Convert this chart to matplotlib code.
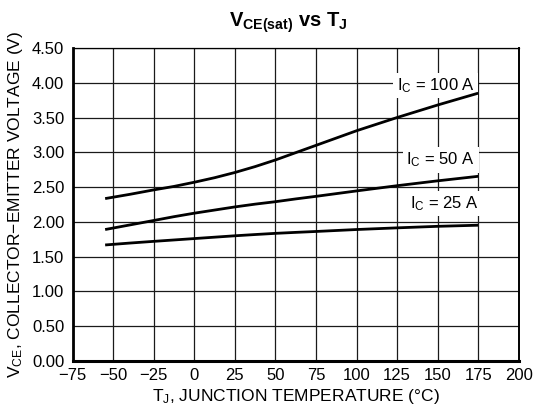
import matplotlib
matplotlib.use("Agg")
import matplotlib.pyplot as plt

plt.rcParams['font.family'] = ['Liberation Sans', 'DejaVu Sans']
plt.rcParams['mathtext.fontset'] = 'custom'
plt.rcParams['mathtext.rm'] = 'Liberation Sans'
plt.rcParams['mathtext.it'] = 'Liberation Sans'
plt.rcParams['mathtext.bf'] = 'Liberation Sans:bold'

#
# Data
#
temps = [-55, -40, -25, -12.5, 0, 12.5, 25, 37.5, 50, 62.5, 75, 100, 125, 150, 175]
vce_100a = [2.335, 2.395, 2.46, 2.51, 2.57, 2.635, 2.71, 2.795, 2.89, 2.995, 3.10, 3.31, 3.50, 3.68, 3.85]
vce_50a = [1.89, 1.955, 2.02, 2.075, 2.125, 2.17, 2.215, 2.255, 2.29, 2.33, 2.367, 2.445, 2.52, 2.59, 2.655]
vce_25a = [1.668, 1.695, 1.72, 1.74, 1.76, 1.78, 1.80, 1.818, 1.835, 1.849, 1.862, 1.89, 1.914, 1.936, 1.952]

x_ticks = list(range(-75, 201, 25))
y_ticks = [0.0, 0.5, 1.0, 1.5, 2.0, 2.5, 3.0, 3.5, 4.0, 4.5]

labels = ["$\\mathregular{I_C}$ = 100 A", "$\\mathregular{I_C}$ = 50 A", "$\\mathregular{I_C}$ = 25 A"]
label_pos = [(148.8, 3.96), (152, 2.89), (154, 2.266)]

#
# Plot
#
fig = plt.figure(figsize=(5.35, 4.18), dpi=100)
ax = fig.add_axes([0.1359, 0.1364, 0.8336, 0.7488])

for series in (vce_100a, vce_50a, vce_25a):
    ax.plot(temps, series, color='black', linewidth=2.0, zorder=4,
            solid_capstyle='butt', solid_joinstyle='round')

for text, (tx, ty) in zip(labels, label_pos):
    ax.text(tx, ty, text, fontsize=12, ha='center', va='center', zorder=3,
            bbox=dict(facecolor='white', edgecolor='none', pad=2.5))

ax.set_xlim(-75, 200)
ax.set_ylim(0, 4.5)
ax.set_xticks(x_ticks)
ax.set_yticks(y_ticks)
ax.set_xticklabels([str(t).replace('-', '\u2212') for t in x_ticks])
ax.set_yticklabels(["%.2f" % v for v in y_ticks])
ax.tick_params(length=0, labelsize=12)
ax.tick_params(axis='y', pad=6)
ax.tick_params(axis='x', pad=5)
ax.grid(True, color='#1a1a1a', linewidth=0.9)
ax.set_axisbelow(True)

ax.spines['top'].set_linewidth(0.9)
ax.spines['right'].set_linewidth(1.4)
ax.spines['left'].set_linewidth(2.0)
ax.spines['bottom'].set_linewidth(2.2)

ax.set_xlabel("$\\mathregular{T_J}$, JUNCTION TEMPERATURE (\u00b0C)", fontsize=12.5, labelpad=3)
ax.set_ylabel("$\\mathregular{V_{CE}}$, COLLECTOR\u2212EMITTER VOLTAGE (V)", fontsize=12.5, labelpad=5)
fig.text(288.5 / 535, 1 - 27 / 418, "$\\mathbf{V_{CE(sat)}}$ vs $\\mathbf{T_J}$",
         fontsize=14.5, fontweight='bold', ha='center', va='baseline')

fig.savefig("out.png", dpi=100)
